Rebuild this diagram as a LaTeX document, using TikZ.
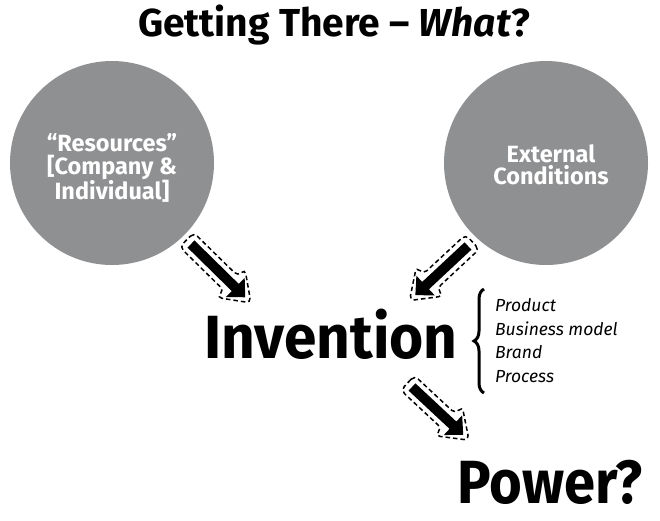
\documentclass[tikz,border=0pt]{standalone}
\usepackage{fontspec}
\setmainfont{Fira Sans}
\usetikzlibrary{decorations.pathreplacing}
\definecolor{circgray}{HTML}{8F9092}
\tikzset{
  circ/.style={circle, fill=circgray, minimum size=204pt, inner sep=0pt},
  circtext/.style={text=white, font=\bfseries\fontsize{23.5}{22.5}\selectfont, align=center, inner sep=0pt},
  big/.style={font=\bfseries\fontsize{61}{61}\selectfont, anchor=base, inner sep=0pt},
  titlestyle/.style={font=\bfseries\fontsize{39}{39}\selectfont, anchor=base, inner sep=0pt},
  item/.style={font=\itshape\fontsize{17.5}{24}\selectfont, anchor=base west, inner sep=0pt},
  pics/dasharrow/.style={code={
    \fill[black] (0,-5) -- (#1-14,-5) -- (#1-14,-13.5) -- (#1,0) -- (#1-14,13.5) -- (#1-14,5) -- (0,5) -- cycle;
    \draw[black, line width=1.5pt, dash pattern=on 4.5pt off 3pt, rounded corners=5pt]
      (-6,0) -- (-6,-10) -- (#1-20,-10) -- (#1-20,-20) -- (#1+8,0) -- (#1-20,20) -- (#1-20,10) -- (-6,10) -- cycle;
  }}
}
\begin{document}
\begin{tikzpicture}[x=1pt,y=-1pt]
\useasboundingbox (0,0) rectangle (660,520);
\node[titlestyle] (title) at (334,36) {Getting There – \textit{What}?};
\node[circ] (res) at (112,163) {};
\node[circ] (ext) at (546,163) {};
\node[circtext] (rest) at (112,168) {“Resources”\\{}[Company \&\\Individual]};
\node[circtext] (extt) at (551,165) {External\\Conditions};
\node[big, xscale=0.96] (inv) at (331,358) {Invention};
\node[big, xscale=0.92] (pow) at (550,503) {Power?};
\node[item] (i1) at (495,311) {Product};
\node[item] (i2) at (495,335) {Business model};
\node[item] (i3) at (495,358) {Brand};
\node[item] (i4) at (495,382) {Process};
\coordinate (b1) at (484,393);
\coordinate (b2) at (484,289);
\draw[decorate, decoration={brace, amplitude=10pt}, line width=3pt] (b1) -- (b2);
\coordinate (a1) at (191,244);
\coordinate (a2) at (468,246);
\coordinate (a3) at (412,387);
\pic[rotate=-44.5] at (a1) {dasharrow=76};
\pic[rotate=-137] at (a2) {dasharrow=72};
\pic[rotate=-43] at (a3) {dasharrow=70};
\end{tikzpicture}
\end{document}
